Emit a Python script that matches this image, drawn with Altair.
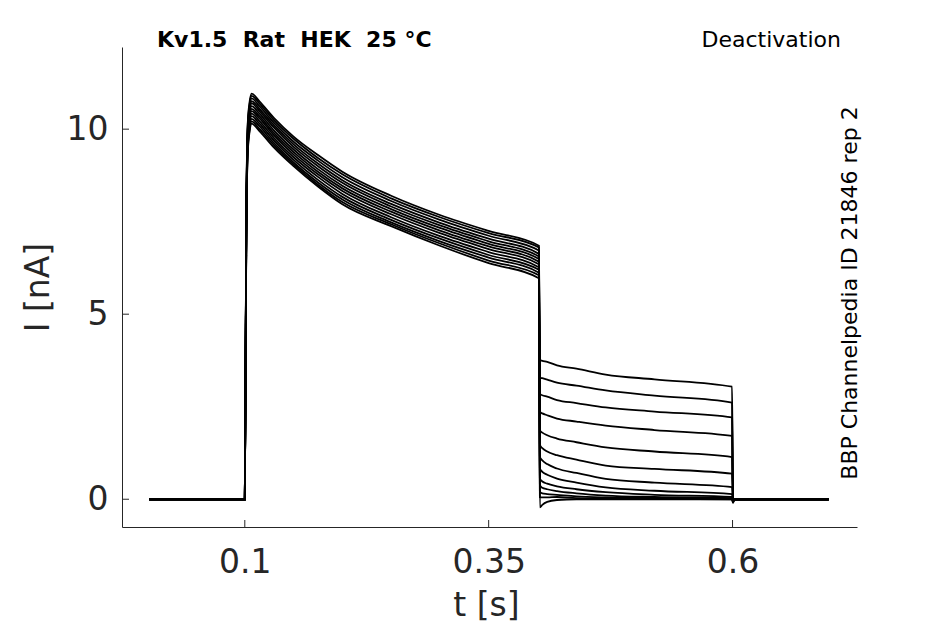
import altair as alt
import pandas as pd

# time points [s]
T = [0.002, 0.1, 0.1015, 0.103, 0.105, 0.107, 0.115, 0.13, 0.15, 0.175, 0.2, 0.25, 0.3, 0.35, 0.4015,
     0.4025, 0.405, 0.41, 0.42, 0.44, 0.47, 0.52, 0.5995, 0.6005, 0.602, 0.6986]

# current [nA] per sweep
S01 = [0, 0, 7.6, 10.15, 10.75, 10.96, 10.75, 10.30, 9.80, 9.30, 8.85, 8.20, 7.68, 7.25, 6.85, 3.76, 3.74, 3.71, 3.62, 3.53, 3.37, 3.24, 3.04, -0.03, 0, 0]
S02 = [0, 0, 7.5, 10.10, 10.69, 10.90, 10.69, 10.24, 9.74, 9.22, 8.78, 8.13, 7.62, 7.19, 6.80, 3.29, 3.27, 3.23, 3.15, 3.07, 2.94, 2.80, 2.61, -0.03, 0, 0]
S03 = [0, 0, 7.5, 10.03, 10.62, 10.83, 10.62, 10.17, 9.66, 9.15, 8.70, 8.06, 7.55, 7.12, 6.72, 2.84, 2.81, 2.77, 2.68, 2.60, 2.48, 2.37, 2.21, -0.03, 0, 0]
S04 = [0, 0, 7.4, 9.96, 10.55, 10.76, 10.55, 10.10, 9.59, 9.07, 8.62, 7.98, 7.47, 7.04, 6.63, 2.36, 2.32, 2.27, 2.18, 2.10, 1.99, 1.87, 1.71, -0.03, 0, 0]
S05 = [0, 0, 7.4, 9.90, 10.49, 10.70, 10.49, 10.04, 9.52, 9.00, 8.55, 7.91, 7.40, 6.97, 6.56, 1.86, 1.80, 1.73, 1.64, 1.54, 1.40, 1.29, 1.14, -0.04, 0, 0]
S06 = [0, 0, 7.3, 9.82, 10.42, 10.62, 10.42, 9.96, 9.45, 8.92, 8.47, 7.84, 7.33, 6.90, 6.49, 1.46, 1.38, 1.29, 1.19, 1.07, 0.91, 0.82, 0.69, -0.04, 0, 0]
S07 = [0, 0, 7.3, 9.75, 10.35, 10.55, 10.35, 9.89, 9.38, 8.85, 8.40, 7.77, 7.26, 6.83, 6.42, 1.14, 1.05, 0.95, 0.83, 0.71, 0.55, 0.45, 0.33, -0.05, 0, 0]
S08 = [0, 0, 7.2, 9.69, 10.29, 10.49, 10.29, 9.83, 9.31, 8.78, 8.33, 7.70, 7.19, 6.76, 6.35, 0.83, 0.74, 0.66, 0.56, 0.45, 0.32, 0.23, 0.14, -0.05, 0, 0]
S09 = [0, 0, 7.2, 9.62, 10.22, 10.42, 10.22, 9.76, 9.24, 8.71, 8.25, 7.62, 7.11, 6.68, 6.27, 0.56, 0.48, 0.42, 0.35, 0.27, 0.19, 0.12, 0.06, -0.06, 0, 0]
S10 = [0, 0, 7.1, 9.55, 10.15, 10.35, 10.15, 9.69, 9.17, 8.63, 8.17, 7.55, 7.04, 6.60, 6.20, 0.38, 0.31, 0.27, 0.22, 0.16, 0.10, 0.06, 0.03, -0.06, 0, 0]
S11 = [0, 0, 7.1, 9.48, 10.08, 10.28, 10.08, 9.62, 9.10, 8.56, 8.10, 7.48, 6.97, 6.53, 6.12, 0.20, 0.16, 0.14, 0.12, 0.08, 0.05, 0.03, 0.01, -0.07, 0, 0]
S12 = [0, 0, 7.0, 9.41, 10.01, 10.21, 10.01, 9.56, 9.05, 8.50, 8.03, 7.43, 6.91, 6.45, 6.05, 0.06, 0.05, 0.05, 0.06, 0.03, 0.02, 0.01, 0.00, -0.08, 0, 0]
S13 = [0, 0, 7.0, 9.35, 9.95, 10.15, 9.95, 9.50, 9.00, 8.45, 7.97, 7.38, 6.85, 6.38, 5.97, -0.22, -0.15, -0.07, -0.02, 0.0, 0.0, 0.0, 0.0, -0.10, 0, 0]

SWEEPS = [S01, S02, S03, S04, S05, S06, S07, S08, S09, S10, S11, S12, S13]

X_TICKS = [0.1, 0.35, 0.6]
Y_TICKS = [0, 5, 10]

TITLE = "Kv1.5 \u00a0Rat \u00a0HEK \u00a025 °C"
PROTOCOL = "Deactivation"
SOURCE = "BBP Channelpedia ID 21846 rep 2"

rows = []
for k, s in enumerate(SWEEPS):
    for t, v in zip(T, s):
        rows.append({"sweep": k, "t": t, "i": v})
df = pd.DataFrame(rows)

W, H = 735, 480
AX = "#262626"
FONT = "DejaVu Sans"

xs = alt.Scale(domain=[-0.0259, 0.7276], nice=False, zero=False)
ys = alt.Scale(domain=[-0.75, 12.22], nice=False, zero=False)

xaxis = alt.Axis(values=X_TICKS, format=".2~f", title="t [s]", grid=False, ticks=False,
                 labelFontSize=33, labelColor=AX, labelFont=FONT, labelPadding=45,
                 labelBaseline="alphabetic", labelFlush=False, labelOverlap=False,
                 domainColor=AX, domainWidth=1,
                 titleFontSize=33, titleFontWeight="normal", titleColor=AX, titleFont=FONT,
                 titleX=364, titleY=88, titleAlign="center", titleBaseline="alphabetic")
yaxis = alt.Axis(values=Y_TICKS, format="d", title="I [nA]", grid=False, ticks=False,
                 labelFontSize=33, labelColor=AX, labelFont=FONT, labelPadding=14,
                 labelBaseline="middle", labelFlush=False, labelOverlap=False,
                 domainColor=AX, domainWidth=1,
                 titleFontSize=33, titleFontWeight="normal", titleColor=AX, titleFont=FONT,
                 titleAngle=270, titleX=-74, titleY=240, titleAlign="center",
                 titleBaseline="alphabetic")

lines = alt.Chart(df).mark_line(color="black", strokeWidth=1.8, interpolate="monotone").encode(
    x=alt.X("t:Q", scale=xs, axis=xaxis),
    y=alt.Y("i:Q", scale=ys, axis=yaxis),
    detail="sweep:N",
)

xt = alt.Chart(pd.DataFrame({"t": X_TICKS})).mark_rule(color=AX, strokeWidth=1).encode(
    x=alt.X("t:Q", scale=xs, axis=xaxis), y=alt.value(H), y2=alt.value(H - 7))
yt = alt.Chart(pd.DataFrame({"i": Y_TICKS})).mark_rule(color=AX, strokeWidth=1).encode(
    y=alt.Y("i:Q", scale=ys, axis=yaxis), x=alt.value(0), x2=alt.value(7))

title = alt.Chart(pd.DataFrame({"s": [TITLE]})).mark_text(
    font=FONT, fontSize=22, fontWeight="bold", color="black", align="left", baseline="alphabetic"
).encode(text="s:N", x=alt.value(35), y=alt.value(0))

proto = alt.Chart(pd.DataFrame({"s": [PROTOCOL]})).mark_text(
    font=FONT, fontSize=22, color="black", align="right", baseline="alphabetic"
).encode(text="s:N", x=alt.value(719), y=alt.value(0))

source = alt.Chart(pd.DataFrame({"s": [SOURCE]})).mark_text(
    font=FONT, fontSize=22, color="black", align="center", baseline="alphabetic", angle=270
).encode(text="s:N", x=alt.value(W), y=alt.value(246))

chart = alt.layer(lines, xt, yt, title, proto, source).properties(
    width=W, height=H, autosize="none",
    padding={"left": 114, "top": 39, "right": 70, "bottom": 96},
    background="white",
).configure_view(stroke=None)

chart.save("out.html", embed_options={"renderer": "svg", "actions": False})
